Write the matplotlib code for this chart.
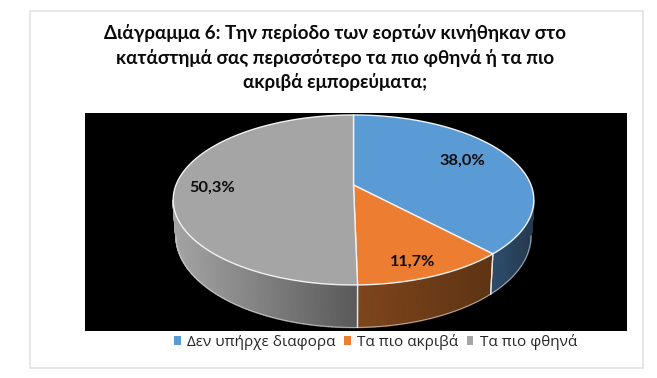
import numpy as np
import matplotlib
matplotlib.use("Agg")
import matplotlib.pyplot as plt
from matplotlib.patches import Polygon, Rectangle, Patch
from matplotlib.colors import to_rgb

title_lines = ["Διάγραμμα 6: Την περίοδο των εορτών κινήθηκαν στο",
               "κατάστημά σας περισσότερο τα πιο φθηνά ή τα πιο",
               "ακριβά εμπορεύματα;"]
categories = ["Δεν υπήρχε διαφορα", "Τα πιο ακριβά", "Τα πιο φθηνά"]
values = [38.0, 11.7, 50.3]
labels = ["38,0%", "11,7%", "50,3%"]
colors = ["#5B9BD5", "#ED7D31", "#A5A5A5"]
side_left = ["#2F4E6C", "#7E451C", "#A4A4A4"]
side_right = ["#24394F", "#5E3414", "#5A5A5A"]
label_pos = [(462, 161), (413, 262), (212, 188)]
title_y = [33, 58, 82]

W, H = 657, 378
fig = plt.figure(figsize=(W / 100, H / 100), dpi=100, facecolor="white")
ax = fig.add_axes([0, 0, 1, 1])
ax.set_xlim(0, W)
ax.set_ylim(H, 0)
ax.axis("off")

CX, CY, R, A, C, DEPTH = 353.5, 185.0, 177.5, 49.8, -0.176, 35.0


def project(theta, z=0.0):
    u, v = np.sin(theta), -np.cos(theta)
    w = 1 + C * v
    shrink = 1 - 0.016 * (z > 0)
    return CX + shrink * R * u / w, (CY + A * v + z) / w


ax.add_patch(Rectangle((30, 11), 613, 357, fc="white", ec="#E3E3E3", lw=1.2, zorder=0))
ax.add_patch(Rectangle((85, 113), 542, 218, fc="black", ec="none", zorder=1))

edges = np.cumsum([0] + values) / sum(values) * 2 * np.pi
lo, hi = np.radians(100), np.radians(260)

# side wall, drawn strip by strip so that it carries the horizontal gradient
for i in range(3):
    a, b = max(edges[i], lo), min(edges[i + 1], hi)
    if b <= a:
        continue
    ts = np.linspace(a, b, int(np.degrees(b - a)) + 2)
    c0, c1 = np.array(to_rgb(side_left[i])), np.array(to_rgb(side_right[i]))
    xs = project(ts)[0]
    for t0, t1, x0 in zip(ts[:-1], ts[1:], xs):
        f = (x0 - xs.min()) / max(xs.max() - xs.min(), 1)
        col = c0 + (c1 - c0) * f
        p = np.array([project(t0), project(t1), project(t1, DEPTH), project(t0, DEPTH)])
        ax.add_patch(Polygon(p, closed=True, fc=col, ec=col, lw=1.2, zorder=2))
    bx, by = project(ts, DEPTH)
    ax.plot(bx, by, color="#D9D9D9", lw=0.7, alpha=0.7, zorder=3)
    for t in (a, b):
        if t in (edges[i], edges[i + 1]):
            p0, p1 = project(t), project(t, DEPTH)
            ax.plot([p0[0], p1[0]], [p0[1], p1[1]], color="#E6E6E6", lw=0.9, zorder=3)

# top face
for i in range(3):
    ts = np.linspace(edges[i], edges[i + 1], 200)
    x, y = project(ts)
    pts = np.vstack([[CX, CY], np.column_stack([x, y])])
    ax.add_patch(Polygon(pts, closed=True, fc=colors[i], ec="#F2F2F2", lw=1.0,
                         joinstyle="round", zorder=4))

for lab, (x, y) in zip(labels, label_pos):
    ax.text(x, y, lab, ha="center", va="center", fontsize=11.8, fontweight="bold",
            family=["Lato", "Open Sans"], color="#0D0D0D", zorder=5)

for line, y in zip(title_lines, title_y):
    ax.text(335.5, y, line, ha="center", va="center", fontsize=13.5, fontweight="bold",
            family=["Lato", "Open Sans"], color="#0A0A0A", zorder=5)

handles = [Patch(fc=c, ec="none") for c in colors]
ax.legend(handles, categories, ncol=3, loc="center", bbox_to_anchor=(375.5 / W, 1 - 342 / H),
          bbox_transform=ax.transAxes, frameon=False,
          prop={"family": ["Open Sans"], "size": 11.0}, handlelength=0.45, handleheight=0.45,
          handletextpad=0.4, columnspacing=0.55, labelcolor="#262626", borderpad=0)

fig.savefig("out.png", dpi=100, facecolor="white")
